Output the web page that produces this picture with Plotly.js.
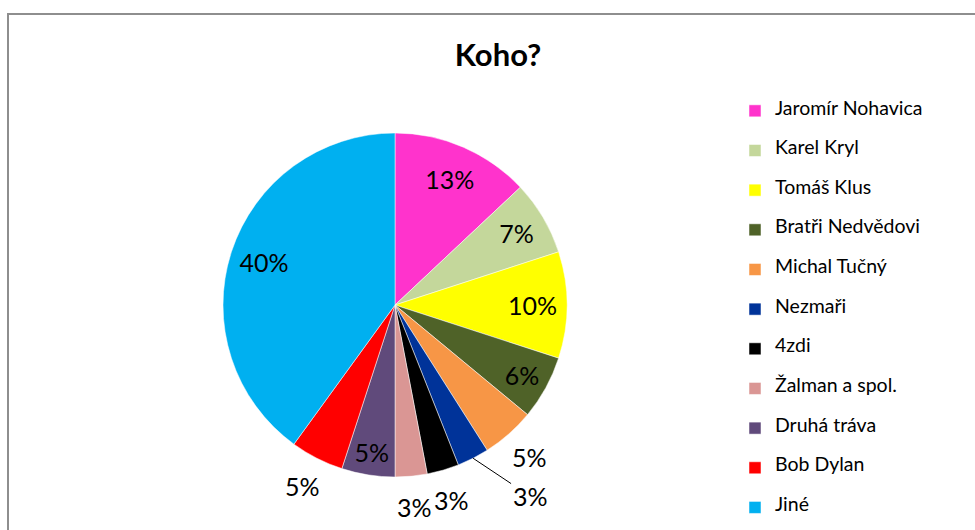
<!DOCTYPE html>
<html>
<head>
<meta charset="utf-8">
<script src="https://cdn.plot.ly/plotly-3.0.1.min.js"></script>
<style>
  body { margin: 0; overflow: hidden; background: #fff; }
  #frame { position: absolute; left: 7px; top: 13px; width: 1000px; height: 600px;
           border-left: 2px solid #8e8e8e; border-top: 2px solid #8e8e8e; pointer-events: none; }
</style>
</head>
<body>
<div id="chart" style="width:975px;height:530px;"></div>
<div id="frame"></div>
<script>
const labels = ["Jaromír Nohavica", "Karel Kryl", "Tomáš Klus", "Bratři Nedvědovi", "Michal Tučný",
                "Nezmaři", "4zdi", "Žalman a spol.", "Druhá tráva", "Bob Dylan", "Jiné"];
const values = [13, 7, 10, 6, 5, 3, 3, 3, 5, 5, 40];
const colors = ["#FF33CC", "#C4D79B", "#FFFF00", "#4F6228", "#F79646",
                "#003399", "#000000", "#DA9694", "#604A7B", "#FF0000", "#00B0F0"];
// which percentage labels sit outside the pie
const labelOutside = [false, false, false, false, true, true, true, true, false, true, false];

// legend rows in the original are ~40px apart, so pad each label with empty lines
const legendLabels = labels.map(n => ' <br><span style="font-size:19.5px">' + n + '</span><br> ');

const FONT = "Lato, sans-serif";
const cx = 395, cy = 305, R = 172;   // pie centre / radius in px
const W = 975, H = 530;
const dom = r => ({ x: [(cx - r) / W, (cx + r) / W], y: [(H - cy - r) / H, (H - cy + r) / H] });

const pie = {
    type: "pie",
    labels: legendLabels,
    values: values,
    sort: false,
    direction: "clockwise",
    rotation: 0,
    marker: { colors: colors, line: { color: "#ffffff", width: 0.5 } },
    textinfo: "none",
    hoverinfo: "percent",
    domain: dom(R)
};

// transparent ring on top of the pie carries the inside labels,
// so they land at ~0.8 of the radius like in the original
const innerLabels = {
    type: "pie",
    labels: labels,
    values: values,
    sort: false,
    direction: "clockwise",
    rotation: 0,
    hole: 0.6,
    showlegend: false,
    marker: { colors: labels.map(() => "rgba(0,0,0,0)"), line: { width: 0 } },
    textposition: "inside",
    insidetextorientation: "horizontal",
    texttemplate: labelOutside.map(o => o ? "" : "%{percent}"),
    insidetextfont: { family: FONT, size: 25, color: "#000" },
    hoverinfo: "skip",
    domain: dom(R)
};

// outside labels: on the slice bisector at 1.18 R, Nezmaři pushed out with a leader line
const total = values.reduce((a, b) => a + b, 0);
const annotations = [];
let cum = 0;
values.forEach((v, i) => {
    const mid = (cum + v / 2) / total * 2 * Math.PI;
    cum += v;
    if (!labelOutside[i]) return;
    const sx = Math.sin(mid), sy = Math.cos(mid);
    const txt = Math.round(v / total * 100) + "%";
    const font = { family: FONT, size: 25, color: "#000" };
    if (labels[i] === "Nezmaři") {
        annotations.push({
            xref: "paper", yref: "paper",
            x: (cx + R * sx) / W, y: 1 - (cy - R * sy) / H,
            ax: 57, ay: 38,
            text: txt, font: font, showarrow: true,
            arrowhead: 0, arrowwidth: 1, arrowcolor: "#000", standoff: 0
        });
    } else {
        annotations.push({
            xref: "paper", yref: "paper",
            x: (cx + 1.18 * R * sx) / W, y: 1 - (cy - 1.18 * R * sy) / H,
            xanchor: "center", yanchor: "middle",
            text: txt, font: font, showarrow: false
        });
    }
});

const layout = {
    width: W,
    height: H,
    margin: { l: 0, r: 0, t: 0, b: 0, autoexpand: false },
    paper_bgcolor: "#fff",
    font: { family: FONT, color: "#000" },
    title: {
        text: "<b>Koho?</b>",
        font: { family: FONT, size: 31, color: "#000" },
        x: 498 / W, xanchor: "center",
        y: 1 - 55 / H, yanchor: "middle"
    },
    showlegend: true,
    legend: {
        x: 735 / W, xanchor: "left",
        y: 1 - 86 / H, yanchor: "top",
        font: { family: FONT, size: 9.4, color: "#000" },
        bgcolor: "rgba(0,0,0,0)"
    },
    annotations: annotations
};

Plotly.newPlot("chart", [pie, innerLabels], layout, { displayModeBar: false, staticPlot: true });
</script>
</body>
</html>
